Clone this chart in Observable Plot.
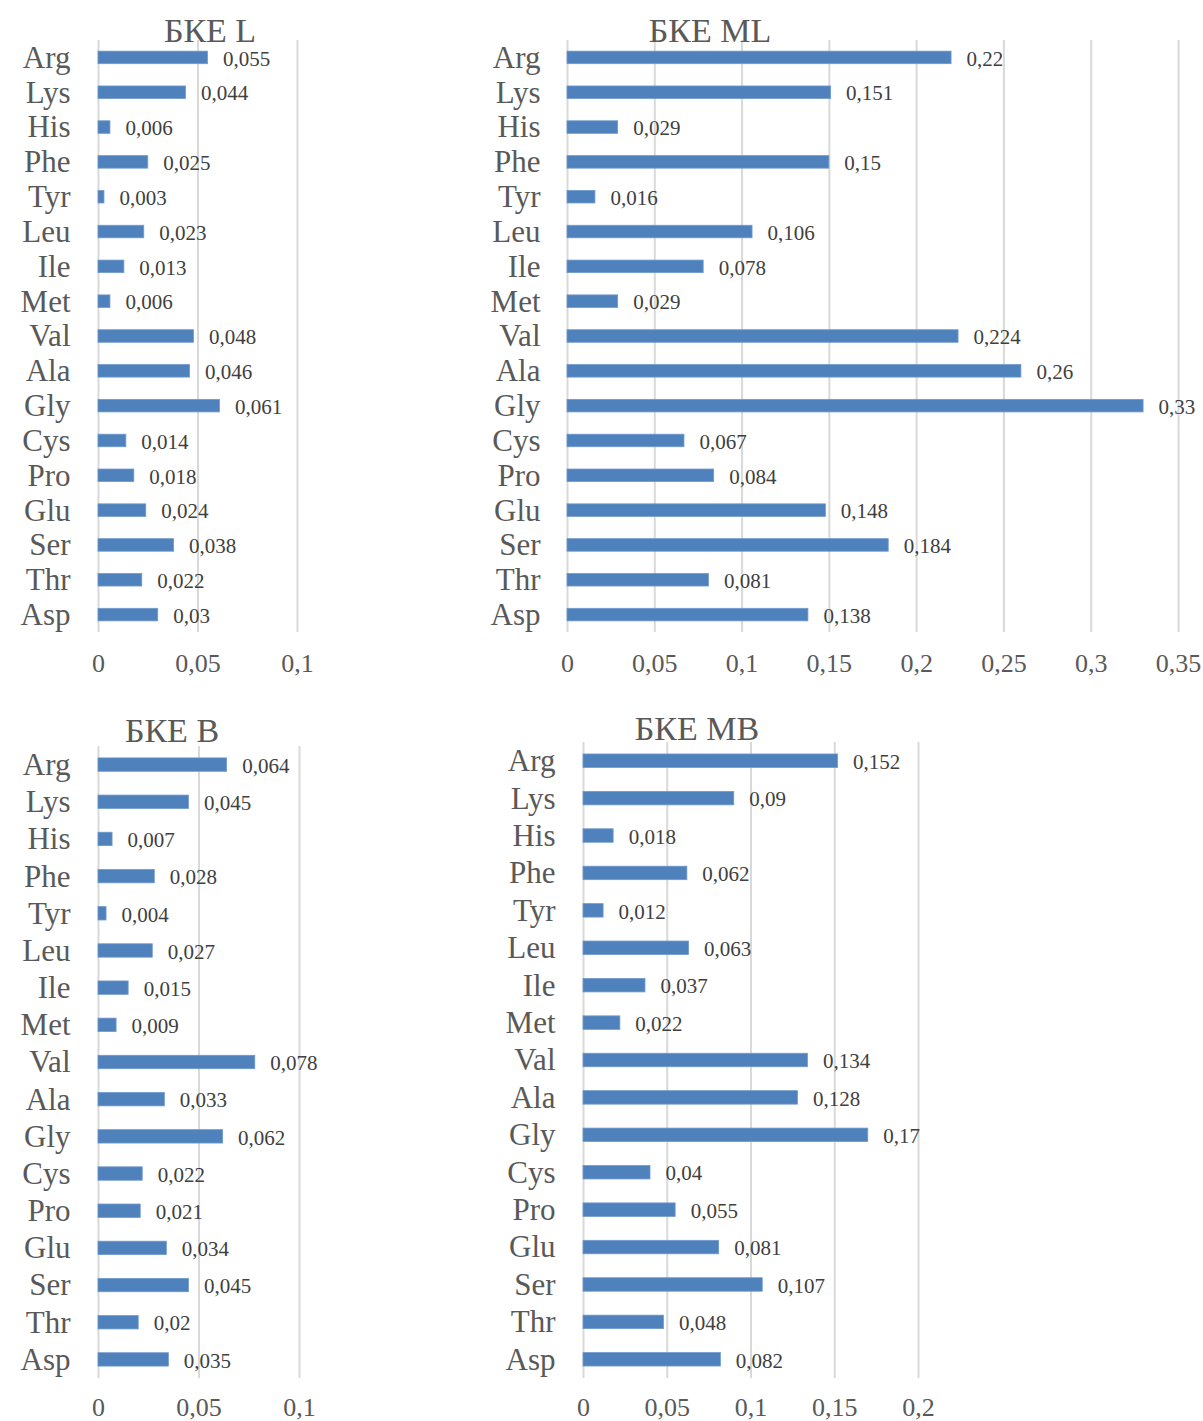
<!DOCTYPE html>
<html>
<head>
<meta charset="utf-8">
<script src="https://cdn.jsdelivr.net/npm/d3@7"></script>
<script src="https://cdn.jsdelivr.net/npm/@observablehq/plot@0.6"></script>
<style>
  html, body { margin: 0; padding: 0; background: #fff; }
  #root { position: relative; width: 1203px; height: 1421px; overflow: hidden; font-family: "Liberation Serif", "Times New Roman", serif; }
  .panel { position: absolute; }
  .panel svg { overflow: visible; }
  .title { position: absolute; width: 300px; text-align: center; font-size: 34px; line-height: 28px; color: #595959; font-family: "Liberation Serif", serif; }
</style>
</head>
<body>
<div id="root"></div>
<script>
const categories = ["Arg","Lys","His","Phe","Tyr","Leu","Ile","Met","Val","Ala","Gly","Cys","Pro","Glu","Ser","Thr","Asp"];

const valuesL  = [0.055,0.044,0.006,0.025,0.003,0.023,0.013,0.006,0.048,0.046,0.061,0.014,0.018,0.024,0.038,0.022,0.03];
const valuesML = [0.22,0.151,0.029,0.15,0.016,0.106,0.078,0.029,0.224,0.26,0.33,0.067,0.084,0.148,0.184,0.081,0.138];
const valuesB  = [0.064,0.045,0.007,0.028,0.004,0.027,0.015,0.009,0.078,0.033,0.062,0.022,0.021,0.034,0.045,0.02,0.035];
const valuesMB = [0.152,0.09,0.018,0.062,0.012,0.063,0.037,0.022,0.134,0.128,0.17,0.04,0.055,0.081,0.107,0.048,0.082];

const ticksL  = [0, 0.05, 0.1];
const ticksML = [0, 0.05, 0.1, 0.15, 0.2, 0.25, 0.3, 0.35];
const ticksB  = [0, 0.05, 0.1];
const ticksMB = [0, 0.05, 0.1, 0.15, 0.2];

const titles = ["БКЕ L", "БКЕ ML", "БКЕ B", "БКЕ MB"];

const fmt = v => String(v).replace(".", ",");
const BAR = "#4f81bd";
const GRID = "#d9d9d9";
const TEXT = "#595959";

function panel(values, ticks, cfg) {
  const data = categories.map((c, i) => ({cat: c, v: values[i]}));
  return Plot.plot({
    width: cfg.width,
    height: cfg.height,
    marginLeft: cfg.ml,
    marginRight: cfg.mr,
    marginTop: cfg.mt,
    marginBottom: cfg.mb,
    style: {fontFamily: "'Liberation Serif', 'Times New Roman', serif", color: TEXT, background: "transparent", overflow: "visible"},
    x: {domain: [ticks[0], ticks[ticks.length - 1]]},
    y: {domain: categories, paddingInner: 0.64, paddingOuter: 0.32, round: false},
    marks: [
      Plot.gridX(ticks, {stroke: GRID, strokeOpacity: 1, strokeWidth: 2}),
      Plot.barX(data, {x: "v", y: "cat", fill: BAR, stroke: "#6f99cc", strokeWidth: 0.8}),
      Plot.text(data, {x: "v", y: "cat", text: d => fmt(d.v), textAnchor: "start", dx: 15, dy: 1, fontSize: 21, fill: "#404040"}),
      Plot.axisX({ticks, tickFormat: fmt, tickSize: 0, tickPadding: cfg.tp, fontSize: 26, fill: TEXT, label: null}),
      Plot.axisY({tickSize: 0, tickPadding: cfg.lp, fontSize: 31, fill: TEXT, label: null})
    ]
  });
}

const root = document.getElementById("root");
const specs = [
  {values: valuesL,  ticks: ticksL,  left: 0,   top: 0,   width: 340, height: 700, ml: 98,  mr: 43,  mt: 40, mb: 68, lp: 28, tp: 21, tx: 210, ty: 17},
  {values: valuesML, ticks: ticksML, left: 460, top: 0,   width: 743, height: 700, ml: 107, mr: 25,  mt: 40, mb: 68, lp: 27, tp: 21, tx: 710, ty: 17},
  {values: valuesB,  ticks: ticksB,  left: 0,   top: 700, width: 340, height: 721, ml: 98,  mr: 41,  mt: 46, mb: 43, lp: 28, tp: 19, tx: 172, ty: 717},
  {values: valuesMB, ticks: ticksMB, left: 460, top: 700, width: 743, height: 721, ml: 123, mr: 285, mt: 42, mb: 43, lp: 28, tp: 19, tx: 697, ty: 715}
];

specs.forEach((s, i) => {
  const wrap = document.createElement("div");
  wrap.className = "panel";
  wrap.style.left = s.left + "px";
  wrap.style.top = s.top + "px";
  wrap.appendChild(panel(s.values, s.ticks, s));
  root.appendChild(wrap);
  const t = document.createElement("div");
  t.className = "title";
  t.textContent = titles[i];
  t.style.left = (s.tx - 150) + "px";
  t.style.top = s.ty + "px";
  root.appendChild(t);
});
</script>
</body>
</html>
